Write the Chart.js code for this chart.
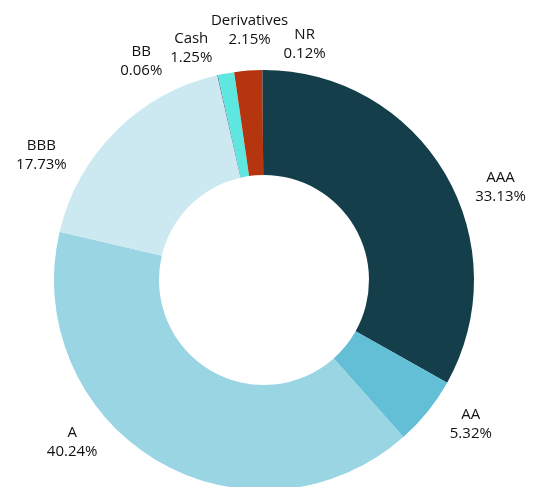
<!DOCTYPE html>
<html>
<head>
<meta charset="utf-8">
<script src="https://cdn.jsdelivr.net/npm/chart.js@4/dist/chart.umd.min.js"></script>
<style>
  html, body { margin: 0; padding: 0; background: #fff; overflow: hidden; }
  #wrap { width: 535px; height: 487px; overflow: hidden; }
</style>
</head>
<body>
<div id="wrap"><canvas id="ratingChart" width="535" height="500"></canvas></div>
<script>
// Credit rating breakdown
const ratings = ['AAA', 'AA', 'A', 'BBB', 'BB', 'Cash', 'Derivatives', 'NR'];
const weights = [33.13, 5.32, 40.24, 17.73, 0.06, 1.25, 2.15, 0.12];
const sliceColors = ['#143f4a', '#63bfd6', '#9ad5e3', '#cce9f1', '#4d7688', '#5ee6e0', '#b5350f', '#163c48'];

// label placement nudges (degrees, px) so the small slices don't overlap
const labelAngleShift = [9, -4, 19, -16, -16.5, -7, 1, 10];
const labelDist = [44, 42, 41, 45, 41, 33, 40, 29];

const outsideLabels = {
    id: 'outsideLabels',
    afterDatasetsDraw(chart) {
        const ctx = chart.ctx;
        const meta = chart.getDatasetMeta(0);
        ctx.save();
        ctx.font = '15px "Open Sans", "Noto Sans", sans-serif';
        ctx.fillStyle = '#111111';
        ctx.textAlign = 'center';
        ctx.textBaseline = 'middle';
        meta.data.forEach((arc, i) => {
            const mid = (arc.startAngle + arc.endAngle) / 2 + labelAngleShift[i] * Math.PI / 180;
            const r = arc.outerRadius + labelDist[i];
            const x = arc.x + Math.cos(mid) * r;
            const y = arc.y + Math.sin(mid) * r;
            ctx.fillText(ratings[i], x, y - 9.5);
            ctx.fillText(weights[i].toFixed(2) + '%', x, y + 9.5);
        });
        ctx.restore();
    }
};

new Chart(document.getElementById('ratingChart').getContext('2d'), {
    type: 'doughnut',
    data: {
        labels: ratings,
        datasets: [{
            data: weights,
            backgroundColor: sliceColors,
            borderWidth: 0
        }]
    },
    options: {
        responsive: false,
        animation: false,
        cutout: '50%',
        layout: { padding: { top: 70, bottom: 10, left: 54, right: 61 } },
        plugins: {
            legend: { display: false },
            tooltip: { enabled: false }
        }
    },
    plugins: [outsideLabels]
});
</script>
</body>
</html>
